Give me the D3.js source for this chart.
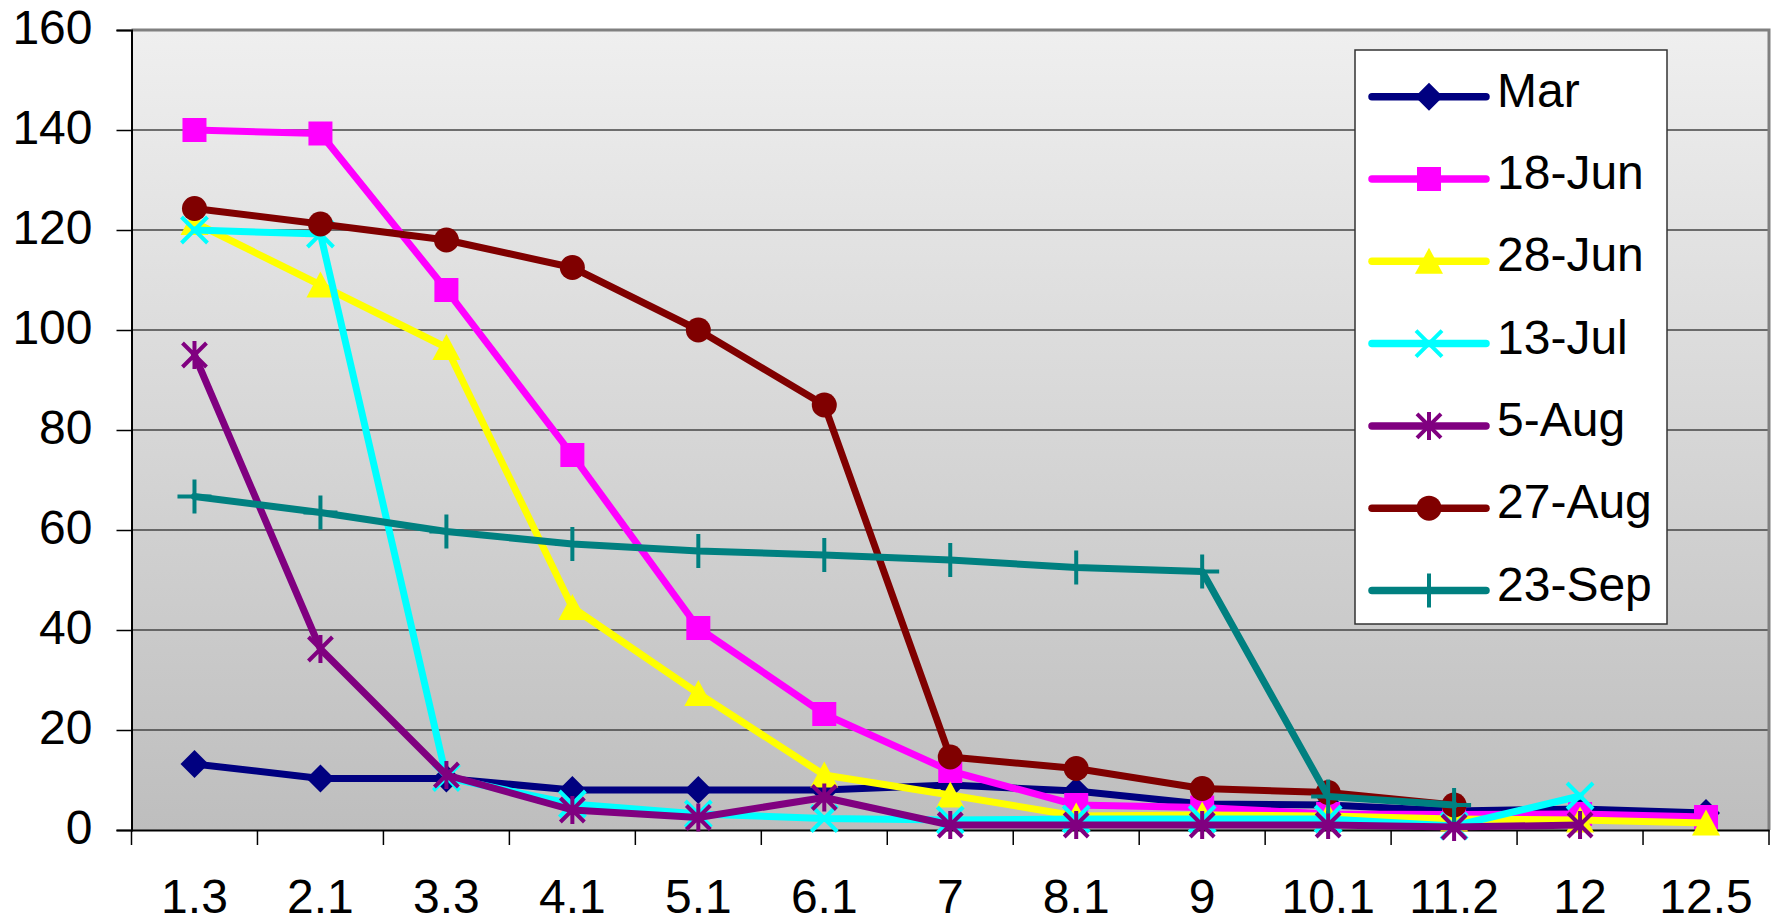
<!DOCTYPE html>
<html>
<head>
<meta charset="utf-8">
<script src="https://cdn.jsdelivr.net/npm/d3@7"></script>
<style>
  html, body { margin: 0; padding: 0; background: #fff; }
  svg { display: block; }
  text { font-family: "Liberation Sans", Arial, sans-serif; fill: #000; }
</style>
</head>
<body>
<svg id="chart" width="1776" height="924"></svg>
<script>
// ---- data ----
const categories = ["1.3", "2.1", "3.3", "4.1", "5.1", "6.1", "7", "8.1", "9", "10.1", "11.2", "12", "12.5"];
const yTicks = [0, 20, 40, 60, 80, 100, 120, 140, 160];

const seriesNames = ["Mar", "18-Jun", "28-Jun", "13-Jul", "5-Aug", "27-Aug", "23-Sep"];
const mar   = [13.2, 10.3, 10.3, 8.0, 8.0, 8.0, 9.0, 7.8, 5.2, 5.0, 3.8, 4.2, 3.4];
const jun18 = [140, 139.3, 108, 75, 40.4, 23.2, 11.8, 5.0, 4.5, 3.2, 3.1, 3.2, 2.6];
const jun28 = [121.5, 109, 96.5, 44.5, 27.3, 11, 7, 2.8, 3.0, 2.8, 2.2, 2.0, 1.4];
const jul13 = [120, 119.2, 10.5, 5.2, 3.2, 2.3, 2.0, 2.2, 2.2, 2.2, 0.8, 6.8, null];
const aug5  = [95, 36.2, 11, 4, 2.5, 6.5, 1.0, 1.0, 1.0, 1.0, 0.6, 1.0, null];
const aug27 = [124.3, 121.2, 118, 112.5, 100, 85, 14.6, 12.3, 8.3, 7.5, 5.0, null, null];
const sep23 = [66.7, 63.5, 59.7, 57.2, 55.8, 55, 54, 52.5, 51.7, 6.7, 5.0, null, null];

const seriesValues = [mar, jun18, jun28, jul13, aug5, aug27, sep23];
const seriesColors = ["#000080", "#FF00FF", "#FFFF00", "#00FFFF", "#800080", "#800000", "#008080"];
const seriesMarkers = ["diamond", "square", "triangle", "x", "asterisk", "circle", "plus"];

// ---- layout ----
const L = 131.5, R = 1769, T = 30, B = 830;
const svg = d3.select("#chart");

const x = d3.scaleBand().domain(categories).range([L, R]).padding(0);
const y = d3.scaleLinear().domain([0, 160]).range([B, T]);

// background gradient
const defs = svg.append("defs");
const grad = defs.append("linearGradient").attr("id", "bg").attr("x1", 0).attr("y1", 0).attr("x2", 0).attr("y2", 1);
grad.append("stop").attr("offset", "0%").attr("stop-color", "#EFEFEF");
grad.append("stop").attr("offset", "100%").attr("stop-color", "#BEBEBE");

svg.append("rect").attr("x", L).attr("y", T).attr("width", R - L).attr("height", B - T).attr("fill", "url(#bg)");

// gridlines
svg.append("g").selectAll("line").data(yTicks.filter(d => d > 0 && d < 160)).join("line")
  .attr("x1", L).attr("x2", R)
  .attr("y1", d => y(d)).attr("y2", d => y(d))
  .attr("stroke", "#444").attr("stroke-width", 1.4);

// plot border top & right (gray)
svg.append("path")
  .attr("d", `M${L},${T} L${R},${T} L${R},${B}`)
  .attr("fill", "none").attr("stroke", "#808080").attr("stroke-width", 3);

// y axis
const yAxis = d3.axisLeft(y).tickValues(yTicks).tickSize(15).tickPadding(24).tickFormat(d3.format("d"));
const gy = svg.append("g").attr("transform", `translate(${L},0)`).call(yAxis);
gy.select(".domain").attr("stroke", "#000").attr("stroke-width", 2);
gy.selectAll(".tick line").attr("stroke", "#000").attr("stroke-width", 1.5);
gy.selectAll(".tick text").attr("font-size", 48).attr("dy", "0.29em")
  .style("font-family", '"Liberation Sans", Arial, sans-serif');

// x axis
const xAxis = d3.axisBottom(x).tickSize(0).tickPadding(49);
const gx = svg.append("g").attr("transform", `translate(0,${B})`).call(xAxis);
gx.select(".domain").attr("stroke", "#000").attr("stroke-width", 2);
gx.selectAll(".tick text").attr("font-size", 48)
  .style("font-family", '"Liberation Sans", Arial, sans-serif');

// x boundary ticks
const bounds = categories.map(c => x(c)).concat([x(categories[categories.length - 1]) + x.bandwidth()]);
svg.append("g").selectAll("line").data(bounds).join("line")
  .attr("x1", d => d).attr("x2", d => d)
  .attr("y1", B).attr("y2", B + 15)
  .attr("stroke", "#000").attr("stroke-width", 1.5);

// marker drawing
function drawMarker(g, type, color) {
  if (type === "diamond") {
    g.append("path").attr("d", "M0,-14 L14,0 L0,14 L-14,0 Z").attr("fill", color);
  } else if (type === "square") {
    g.append("rect").attr("x", -12).attr("y", -12).attr("width", 24).attr("height", 24).attr("fill", color);
  } else if (type === "triangle") {
    g.append("path").attr("d", "M0,-13.5 L14,12.5 L-14,12.5 Z").attr("fill", color);
  } else if (type === "circle") {
    g.append("circle").attr("r", 12.5).attr("fill", color);
  } else if (type === "x") {
    g.append("path").attr("d", "M-13,-13 L13,13 M-13,13 L13,-13")
      .attr("stroke", color).attr("stroke-width", 4).attr("fill", "none");
  } else if (type === "asterisk") {
    g.append("path").attr("d", "M-12,-12 L12,12 M-12,12 L12,-12 M0,-14 L0,14")
      .attr("stroke", color).attr("stroke-width", 4).attr("fill", "none");
  } else if (type === "plus") {
    g.append("path").attr("d", "M-17,0 L17,0 M0,-17 L0,17")
      .attr("stroke", color).attr("stroke-width", 4).attr("fill", "none");
  }
}

const line = d3.line()
  .defined(d => d.v !== null)
  .x(d => x(d.c) + x.bandwidth() / 2)
  .y(d => y(d.v));

const plot = svg.append("g");
seriesValues.forEach((vals, i) => {
  const data = categories.map((c, j) => ({ c: c, v: vals[j] }));
  const g = plot.append("g");
  g.append("path").datum(data).attr("d", line)
    .attr("fill", "none").attr("stroke", seriesColors[i]).attr("stroke-width", 7)
    .attr("stroke-linejoin", "round").attr("stroke-linecap", "round");
  data.filter(d => d.v !== null).forEach(d => {
    const m = g.append("g").attr("transform", `translate(${x(d.c) + x.bandwidth() / 2},${y(d.v)})`);
    drawMarker(m, seriesMarkers[i], seriesColors[i]);
  });
});

// legend
const LX = 1355, LY = 50, LW = 312, LH = 574;
const leg = svg.append("g");
leg.append("rect").attr("x", LX).attr("y", LY).attr("width", LW).attr("height", LH)
  .attr("fill", "#fff").attr("stroke", "#333").attr("stroke-width", 1.5);
const legY0 = 96.7, legStep = 82.3;
seriesNames.forEach((name, i) => {
  const yy = legY0 + i * legStep;
  leg.append("line").attr("x1", 1372).attr("x2", 1486).attr("y1", yy).attr("y2", yy)
    .attr("stroke", seriesColors[i]).attr("stroke-width", 7.5).attr("stroke-linecap", "round");
  const m = leg.append("g").attr("transform", `translate(1429,${yy})`);
  drawMarker(m, seriesMarkers[i], seriesColors[i]);
  leg.append("text").attr("x", 1497).attr("y", yy + 10).attr("font-size", 48).text(name);
});
</script>
</body>
</html>
